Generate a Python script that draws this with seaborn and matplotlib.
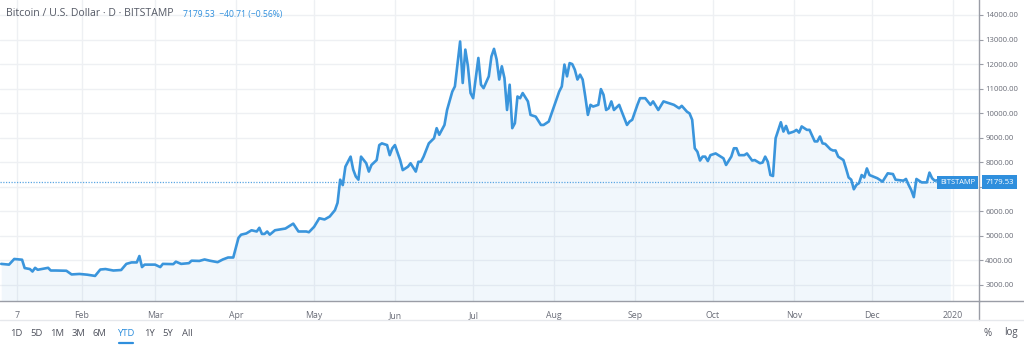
import matplotlib
matplotlib.use("Agg")
import matplotlib.pyplot as plt
from matplotlib.lines import Line2D
import seaborn as sns
import pandas as pd

# ---------------- data ----------------
dates = [
    "2019-01-01", "2019-01-04", "2019-01-06", "2019-01-09", "2019-01-10", "2019-01-12",
    "2019-01-13", "2019-01-14", "2019-01-15", "2019-01-17", "2019-01-19", "2019-01-20",
    "2019-01-22", "2019-01-26", "2019-01-28", "2019-01-31", "2019-02-03", "2019-02-06",
    "2019-02-08", "2019-02-10", "2019-02-13", "2019-02-16", "2019-02-18", "2019-02-20",
    "2019-02-22", "2019-02-23", "2019-02-24", "2019-02-25", "2019-03-01", "2019-03-03",
    "2019-03-04", "2019-03-08", "2019-03-09", "2019-03-11", "2019-03-14", "2019-03-15",
    "2019-03-18", "2019-03-20", "2019-03-22", "2019-03-25", "2019-03-27", "2019-03-29",
    "2019-03-31", "2019-04-02", "2019-04-03", "2019-04-05", "2019-04-07", "2019-04-09",
    "2019-04-10", "2019-04-11", "2019-04-12", "2019-04-13", "2019-04-14", "2019-04-16",
    "2019-04-20", "2019-04-23", "2019-04-25", "2019-04-28", "2019-04-29", "2019-05-01",
    "2019-05-03", "2019-05-05", "2019-05-07", "2019-05-09", "2019-05-10", "2019-05-11",
    "2019-05-12", "2019-05-13", "2019-05-15", "2019-05-16", "2019-05-17", "2019-05-18",
    "2019-05-19", "2019-05-21", "2019-05-22", "2019-05-23", "2019-05-25", "2019-05-26",
    "2019-05-27", "2019-05-29", "2019-05-30", "2019-05-31", "2019-06-01", "2019-06-03",
    "2019-06-04", "2019-06-06", "2019-06-07", "2019-06-09", "2019-06-10", "2019-06-11",
    "2019-06-12", "2019-06-14", "2019-06-16", "2019-06-17", "2019-06-18", "2019-06-20",
    "2019-06-21", "2019-06-23", "2019-06-24", "2019-06-26", "2019-06-27", "2019-06-28",
    "2019-06-29", "2019-06-30", "2019-07-01", "2019-07-03", "2019-07-04", "2019-07-05",
    "2019-07-07", "2019-07-08", "2019-07-09", "2019-07-10", "2019-07-11", "2019-07-12",
    "2019-07-13", "2019-07-14", "2019-07-15", "2019-07-16", "2019-07-17", "2019-07-18",
    "2019-07-19", "2019-07-20", "2019-07-22", "2019-07-23", "2019-07-25", "2019-07-27",
    "2019-07-28", "2019-07-30", "2019-08-01", "2019-08-03", "2019-08-04", "2019-08-05",
    "2019-08-06", "2019-08-07", "2019-08-08", "2019-08-09", "2019-08-10", "2019-08-11",
    "2019-08-12", "2019-08-13", "2019-08-14", "2019-08-15", "2019-08-16", "2019-08-18",
    "2019-08-19", "2019-08-20", "2019-08-21", "2019-08-22", "2019-08-23", "2019-08-24",
    "2019-08-26", "2019-08-27", "2019-08-29", "2019-08-30", "2019-08-31", "2019-09-02",
    "2019-09-03", "2019-09-05", "2019-09-07", "2019-09-08", "2019-09-10", "2019-09-12",
    "2019-09-14", "2019-09-16", "2019-09-18", "2019-09-19", "2019-09-21", "2019-09-22",
    "2019-09-23", "2019-09-24", "2019-09-25", "2019-09-26", "2019-09-27", "2019-09-28",
    "2019-09-29", "2019-09-30", "2019-10-02", "2019-10-04", "2019-10-05", "2019-10-06",
    "2019-10-08", "2019-10-09", "2019-10-10", "2019-10-11", "2019-10-13", "2019-10-14",
    "2019-10-16", "2019-10-17", "2019-10-19", "2019-10-20", "2019-10-21", "2019-10-22",
    "2019-10-23", "2019-10-24", "2019-10-25", "2019-10-27", "2019-10-28", "2019-10-29",
    "2019-10-30", "2019-11-01", "2019-11-02", "2019-11-03", "2019-11-04", "2019-11-06",
    "2019-11-07", "2019-11-09", "2019-11-10", "2019-11-11", "2019-11-12", "2019-11-13",
    "2019-11-15", "2019-11-16", "2019-11-17", "2019-11-18", "2019-11-20", "2019-11-21",
    "2019-11-22", "2019-11-23", "2019-11-24", "2019-11-25", "2019-11-26", "2019-11-27",
    "2019-11-28", "2019-11-29", "2019-11-30", "2019-12-03", "2019-12-05", "2019-12-07",
    "2019-12-09", "2019-12-10", "2019-12-13", "2019-12-14", "2019-12-15", "2019-12-16",
    "2019-12-17", "2019-12-18", "2019-12-20", "2019-12-22", "2019-12-23", "2019-12-24",
    "2019-12-25", "2019-12-28", "2019-12-30", "2019-12-31",
]
prices = [
    3860, 3830, 4060, 4030, 3690, 3650,
    3550, 3700, 3620, 3660, 3700, 3590,
    3590, 3580, 3430, 3450, 3420, 3370,
    3630, 3650, 3590, 3610, 3860, 3920,
    3920, 4180, 3730, 3830, 3830, 3730,
    3860, 3850, 3950, 3860, 3890, 3990,
    3980, 4040, 3990, 3930, 4040, 4120,
    4120, 4920, 5050, 5100, 5230, 5180,
    5330, 5080, 5080, 5180, 5050, 5230,
    5300, 5500, 5180, 5180, 5150, 5370,
    5720, 5670, 5790, 6050, 6350, 7290,
    7070, 7820, 8230, 7700, 7420, 7290,
    8230, 7960, 7620, 7890, 8090, 8700,
    8770, 8700, 8290, 8570, 8700, 8090,
    7680, 7820, 7960, 7620, 8020, 8020,
    8230, 8770, 8980, 9390, 9120, 9520,
    10130, 10880, 11090, 12920, 11230, 12590,
    11910, 10820, 10610, 12250, 11160, 11020,
    11500, 12310, 12620, 12190, 11370, 11910,
    11430, 10130, 11160, 9390, 9590, 10680,
    10610, 10820, 10480, 9930, 9860, 9520,
    9520, 9660, 10270, 10880, 11090, 11980,
    11500, 12040, 12000, 11770, 11370, 11570,
    11370, 10680, 9930, 10340, 10270, 10340,
    10980, 10750, 10130, 10200, 10480, 10130,
    10340, 10060, 9520, 9660, 9730, 10340,
    10610, 10610, 10340, 10480, 10130, 10480,
    10410, 10340, 10200, 10300, 10060, 9990,
    9730, 8570, 8430, 8070, 8230, 8230,
    8050, 8290, 8360, 8230, 8160, 7890,
    8230, 8570, 8570, 8290, 8290, 8360,
    8070, 8090, 7960, 7990, 8230, 8020,
    7480, 7440, 8980, 9630, 9250, 9480,
    9180, 9250, 9320, 9210, 9460, 9320,
    9320, 8850, 8850, 9050, 8770, 8750,
    8530, 8480, 8480, 8230, 8090, 7750,
    7380, 7290, 6900, 7080, 7150, 7480,
    7380, 7750, 7480, 7350, 7210, 7550,
    7520, 7290, 7250, 7320, 7080, 6870,
    6580, 7320, 7180, 7180, 7580, 7350,
    7250, 7300, 7220, 7179.53,
]
last_price = 7179.53
change = -40.71
change_pct = -0.56
month_ticks = ["2019-01-07", "2019-02-01", "2019-03-01", "2019-04-01", "2019-05-01",
               "2019-06-01", "2019-07-01", "2019-08-01", "2019-09-01", "2019-10-01",
               "2019-11-01", "2019-12-01", "2020-01-01"]
month_labels = ["7", "Feb", "Mar", "Apr", "May", "Jun", "Jul", "Aug", "Sep", "Oct",
                "Nov", "Dec", "2020"]
y_ticks = [3000, 4000, 5000, 6000, 7000, 8000, 9000, 10000, 11000, 12000, 13000, 14000]
range_buttons = ["1D", "5D", "1M", "3M", "6M", "YTD", "1Y", "5Y", "All"]

# ---------------- style ----------------
sns.set_style("white")
plt.rcParams["font.family"] = ["Open Sans", "DejaVu Sans"]

LINE = "#3a95dc"
LABEL_BG = "#2f8fdd"
GRID = "#eef0f3"
TXT = "#6a6d78"
AXIS = "#9a9da6"

W, H = 1024, 345
fig = plt.figure(figsize=(W / 100, H / 100), dpi=100)
fig.patch.set_facecolor("white")

ax = fig.add_axes([0, (H - 301) / H, 979 / W, 301 / H])

df = pd.DataFrame({"date": pd.to_datetime(dates), "price": prices})

ax.fill_between(df["date"], df["price"], 0, color=LINE, alpha=0.065, linewidth=0, zorder=1)
sns.lineplot(data=df, x="date", y="price", ax=ax, color=LINE, linewidth=1.9, zorder=3)

ax.set_xlim(pd.Timestamp("2018-12-31 13:00"), pd.Timestamp("2020-01-11"))
ax.set_ylim(2348, 14611)

ax.set_xticks(pd.to_datetime(month_ticks))
ax.set_xticklabels(month_labels)
ax.set_yticks(y_ticks)
ax.set_yticklabels([f"{v:.2f}" for v in y_ticks])
ax.yaxis.tick_right()
ax.set_xlabel("")
ax.set_ylabel("")

ax.grid(True, color=GRID, linewidth=1.0, zorder=0)
ax.set_axisbelow(True)
for s in ["top", "left"]:
    ax.spines[s].set_visible(False)
for s in ["bottom", "right"]:
    ax.spines[s].set_color(AXIS)
    ax.spines[s].set_linewidth(1.0)

ax.tick_params(axis="x", length=3, width=0.8, color=AXIS, labelsize=6.3,
               labelcolor=TXT, pad=4)
ax.tick_params(axis="y", length=3, width=0.8, color=AXIS, labelsize=5.6,
               labelcolor=TXT, pad=1.5, right=True, left=False)

# current price dotted line
ax.axhline(last_price, color="#5aa6e3", linewidth=0.9, linestyle=(0, (1, 1.2)), zorder=2)

# price labels
ax.annotate("BITSTAMP", xy=(1.0, last_price), xycoords=("axes fraction", "data"),
            xytext=(-2.5, 0), textcoords="offset points", ha="right", va="center",
            fontsize=5.3, color="white", zorder=6,
            bbox=dict(boxstyle="square,pad=0.4", fc=LABEL_BG, ec="none"))
ax.annotate(f"{last_price:.2f}", xy=(1.0, last_price), xycoords=("axes fraction", "data"),
            xytext=(4.5, 0), textcoords="offset points", ha="left", va="center",
            fontsize=5.6, color="white", zorder=6, annotation_clip=False,
            bbox=dict(boxstyle="square,pad=0.45", fc=LABEL_BG, ec="none"))

# header
fig.text(6 / W, 1 - 14 / H, "Bitcoin / U.S. Dollar · D · BITSTAMP", fontsize=7.6,
         color="#555a66", va="center", ha="left")
fig.text(183 / W, 1 - 14 / H,
         f"{last_price:.2f}  \u2212{abs(change):.2f} (\u2212{abs(change_pct):.2f}%)",
         fontsize=6.2, color=LABEL_BG, va="center", ha="left")

# extra frame lines
fig.add_artist(Line2D([979 / W, 979 / W], [1 - 320 / H, 1 - 301 / H],
                      color=AXIS, linewidth=1.0, transform=fig.transFigure))
fig.add_artist(Line2D([979 / W, 1.0], [1 - 301 / H, 1 - 301 / H],
                      color=AXIS, linewidth=1.0, transform=fig.transFigure))
fig.add_artist(Line2D([0, 1.0], [1 - 320 / H, 1 - 320 / H],
                      color="#e6e8ec", linewidth=1.0, transform=fig.transFigure))

# bottom toolbar
btn_x = [16, 37, 57, 78, 99, 126, 149, 168, 187]
for bx, lab in zip(btn_x, range_buttons):
    col = LABEL_BG if lab == "YTD" else "#50535e"
    fig.text(bx / W, 1 - 333 / H, lab, fontsize=6.8, color=col, ha="center", va="center")
fig.add_artist(Line2D([119 / W, 133 / W], [1 - 342.5 / H, 1 - 342.5 / H],
                      color=LABEL_BG, linewidth=1.6, transform=fig.transFigure))
fig.text(988 / W, 1 - 333 / H, "%", fontsize=7, color="#50535e", ha="center", va="center")
fig.text(1011 / W, 1 - 333 / H, "log", fontsize=7, color="#50535e", ha="center", va="center")

fig.savefig("out.png", dpi=100, facecolor="white")
